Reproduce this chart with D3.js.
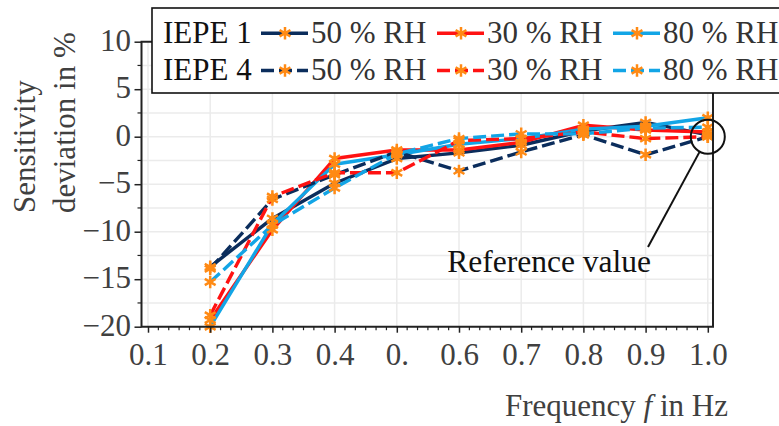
<!DOCTYPE html>
<html>
<head>
<meta charset="utf-8">
<script src="https://cdn.jsdelivr.net/npm/d3@7"></script>
<style>
  html, body { margin: 0; padding: 0; background: #fff; }
  svg { display: block; }
  text { font-family: "Liberation Serif", "Times New Roman", serif; }
</style>
</head>
<body>
<svg id="chart" width="779" height="426"></svg>
<script>
// ---- data ----
const frequencies = [0.2, 0.3, 0.4, 0.5, 0.6, 0.7, 0.8, 0.9, 1.0];
const xTickValues = [0.1, 0.2, 0.3, 0.4, 0.5, 0.6, 0.7, 0.8, 0.9, 1.0];
const xTickLabels = ["0.1", "0.2", "0.3", "0.4", "0.", "0.6", "0.7", "0.8", "0.9", "1.0"];
const yTickValues = [-20, -15, -10, -5, 0, 5, 10];
const yTickLabels = ["\u221220", "\u221215", "\u221210", "\u22125", "0", "5", "10"];
const sensorNames = ["IEPE 1", "IEPE 4"];
const humidityNames = ["50 % RH", "30 % RH", "80 % RH"];

const iepe1_rh50 = [-13.7, -8.6, -4.9, -2.3, -1.7, -0.9, 0.6, 1.5, 0.2];
const iepe1_rh30 = [-19.3, -9.8, -2.3, -1.4, -1.4, -0.6, 1.2, 0.7, 0.5];
const iepe1_rh80 = [-20.0, -9.2, -2.9, -1.9, -0.8, -0.2, 0.8, 1.1, 2.0];
const iepe4_rh50 = [-13.9, -6.6, -4.0, -1.6, -3.6, -1.6, 0.2, -1.9, 0.0];
const iepe4_rh30 = [-18.8, -6.3, -3.8, -3.8, -0.4, -0.2, 0.5, -0.2, 0.0];
const iepe4_rh80 = [-15.3, -9.3, -5.4, -1.8, -0.2, 0.3, 0.3, 0.9, 1.0];

const referenceFreq = 1.0, referenceValue = 0;

// ---- styles ----
const humidityColors = ["#0b2d5c", "#ff1212", "#12a5e6"];
const markerColor = "#ff8a14";
const dashPatterns = [null, "13,5"];
const textGray = "#404040";
const fontSize = 31;

const series = [
  { sensor: 0, hum: 0, values: iepe1_rh50 },
  { sensor: 0, hum: 1, values: iepe1_rh30 },
  { sensor: 0, hum: 2, values: iepe1_rh80 },
  { sensor: 1, hum: 0, values: iepe4_rh50 },
  { sensor: 1, hum: 1, values: iepe4_rh30 },
  { sensor: 1, hum: 2, values: iepe4_rh80 }
];

const svg = d3.select("#chart");
const x = d3.scaleLinear().domain([0.08955, 1.00836]).range([141.5, 713]);
const y = d3.scaleLinear().domain([-20, 10]).range([326.7, 41.7]);
const [x0, x1] = x.range();
const [yb, yt] = y.range();

// grid
const grid = svg.append("g").attr("stroke", "#ebebeb").attr("stroke-width", 1.5);
grid.selectAll("line.v").data(xTickValues).join("line")
  .attr("x1", d => x(d)).attr("x2", d => x(d)).attr("y1", yt).attr("y2", yb);
grid.selectAll("line.h").data(d3.range(-17.5, 10, 2.5)).join("line")
  .attr("x1", x0).attr("x2", x1).attr("y1", d => y(d)).attr("y2", d => y(d));

// lines
const line = d3.line().x((d, i) => x(frequencies[i])).y(d => y(d));
const plot = svg.append("g");
plot.selectAll("path.series").data(series).join("path")
  .attr("fill", "none")
  .attr("stroke", d => humidityColors[d.hum])
  .attr("stroke-width", 3.4)
  .attr("stroke-linejoin", "round")
  .attr("stroke-dasharray", d => dashPatterns[d.sensor])
  .attr("d", d => line(d.values));

// markers
const star = d3.symbol().type(d3.symbolAsterisk).size(110);
series.forEach(s => {
  plot.append("g").selectAll("path").data(s.values).join("path")
    .attr("d", star)
    .attr("transform", (d, i) => `translate(${x(frequencies[i])},${y(d)})`)
    .attr("fill", "none").attr("stroke", markerColor).attr("stroke-width", 2.5);
});

// frame
svg.append("path")
  .attr("d", `M${x0},${yt}H${x1}V${yb}H${x0}Z`)
  .attr("fill", "none").attr("stroke", "#222").attr("stroke-width", 2);

// x axis
const xAxis = d3.axisBottom(x).tickValues(xTickValues)
  .tickFormat((d, i) => xTickLabels[i]).tickSize(6).tickSizeOuter(0);
const gx = svg.append("g").attr("transform", `translate(0,${yb})`).call(xAxis);
gx.select(".domain").remove();
gx.selectAll(".tick line").attr("stroke", "#222").attr("stroke-width", 1.5);
gx.selectAll(".tick text").attr("font-size", fontSize).attr("fill", textGray)
  .attr("y", 16.5).attr("dy", "0.71em");
const xMinor = d3.range(0, 55).filter(i => i % 6 !== 0).map(i => 0.1 + i / 60);
svg.append("g").selectAll("line").data(xMinor).join("line")
  .attr("x1", d => x(d)).attr("x2", d => x(d)).attr("y1", yb).attr("y2", yb + 3.5)
  .attr("stroke", "#222").attr("stroke-width", 1.2);

// y axis
const yAxis = d3.axisLeft(y).tickValues(yTickValues)
  .tickFormat((d, i) => yTickLabels[i]).tickSize(7).tickPadding(3.5).tickSizeOuter(0);
const gy = svg.append("g").attr("transform", `translate(${x0},0)`).call(yAxis);
gy.select(".domain").remove();
gy.selectAll(".tick line").attr("stroke", "#222").attr("stroke-width", 1.5);
gy.selectAll(".tick text").attr("font-size", fontSize).attr("fill", textGray)
  .attr("dy", "0.27em");
const yMinor = d3.range(-17.5, 10, 5);
svg.append("g").selectAll("line").data(yMinor).join("line")
  .attr("x1", x0).attr("x2", x0 - 4).attr("y1", d => y(d)).attr("y2", d => y(d))
  .attr("stroke", "#222").attr("stroke-width", 1.2);

// axis titles
const yTitle = svg.append("text").attr("transform", "translate(35,213) rotate(-90)")
  .attr("font-size", fontSize).attr("fill", textGray);
yTitle.append("tspan").attr("x", 0).attr("y", 0).text("Sensitivity");
yTitle.append("tspan").attr("x", 0).attr("y", 40).text("deviation in %");

const xTitle = svg.append("text").attr("x", 728).attr("y", 416)
  .attr("text-anchor", "end").attr("font-size", fontSize).attr("fill", textGray);
xTitle.append("tspan").text("Frequency ");
xTitle.append("tspan").attr("font-style", "italic").text("f");
xTitle.append("tspan").text(" in Hz");

// reference annotation
const cx = x(referenceFreq), cy = y(referenceValue), r = 17;
const endPt = [648, 247];
const dx = endPt[0] - cx, dy = endPt[1] - cy, len = Math.hypot(dx, dy);
svg.append("circle").attr("cx", cx).attr("cy", cy).attr("r", r)
  .attr("fill", "none").attr("stroke", "#111").attr("stroke-width", 2);
svg.append("line")
  .attr("x1", cx + r * dx / len).attr("y1", cy + r * dy / len)
  .attr("x2", endPt[0]).attr("y2", endPt[1])
  .attr("stroke", "#111").attr("stroke-width", 2);
svg.append("text").attr("x", 651).attr("y", 272).attr("text-anchor", "end")
  .attr("font-size", 31.5).attr("fill", "#111").text("Reference value");

// legend
const lg = svg.append("g");
lg.append("rect").attr("x", 152).attr("y", 8).attr("width", 700).attr("height", 85)
  .attr("fill", "#fff").attr("stroke", "#111").attr("stroke-width", 1.6);
const rowBase = [42.7, 80];
const entryStart = [261, 437, 613];
sensorNames.forEach((name, si) => {
  lg.append("text").attr("x", 163).attr("y", rowBase[si]).attr("font-size", fontSize)
    .attr("fill", "#111").text(name);
  humidityNames.forEach((h, hi) => {
    const sx = entryStart[hi], ly = rowBase[si] - 9.5;
    lg.append("line").attr("x1", sx).attr("x2", sx + 47).attr("y1", ly).attr("y2", ly)
      .attr("stroke", humidityColors[hi]).attr("stroke-width", 3.4)
      .attr("stroke-dasharray", dashPatterns[si]);
    lg.append("path").attr("d", star).attr("transform", `translate(${sx + 24},${ly})`)
      .attr("fill", "none").attr("stroke", markerColor).attr("stroke-width", 2.5);
    lg.append("text").attr("x", sx + 50).attr("y", rowBase[si]).attr("font-size", fontSize)
      .attr("fill", "#333").text(h);
  });
});
</script>
</body>
</html>
